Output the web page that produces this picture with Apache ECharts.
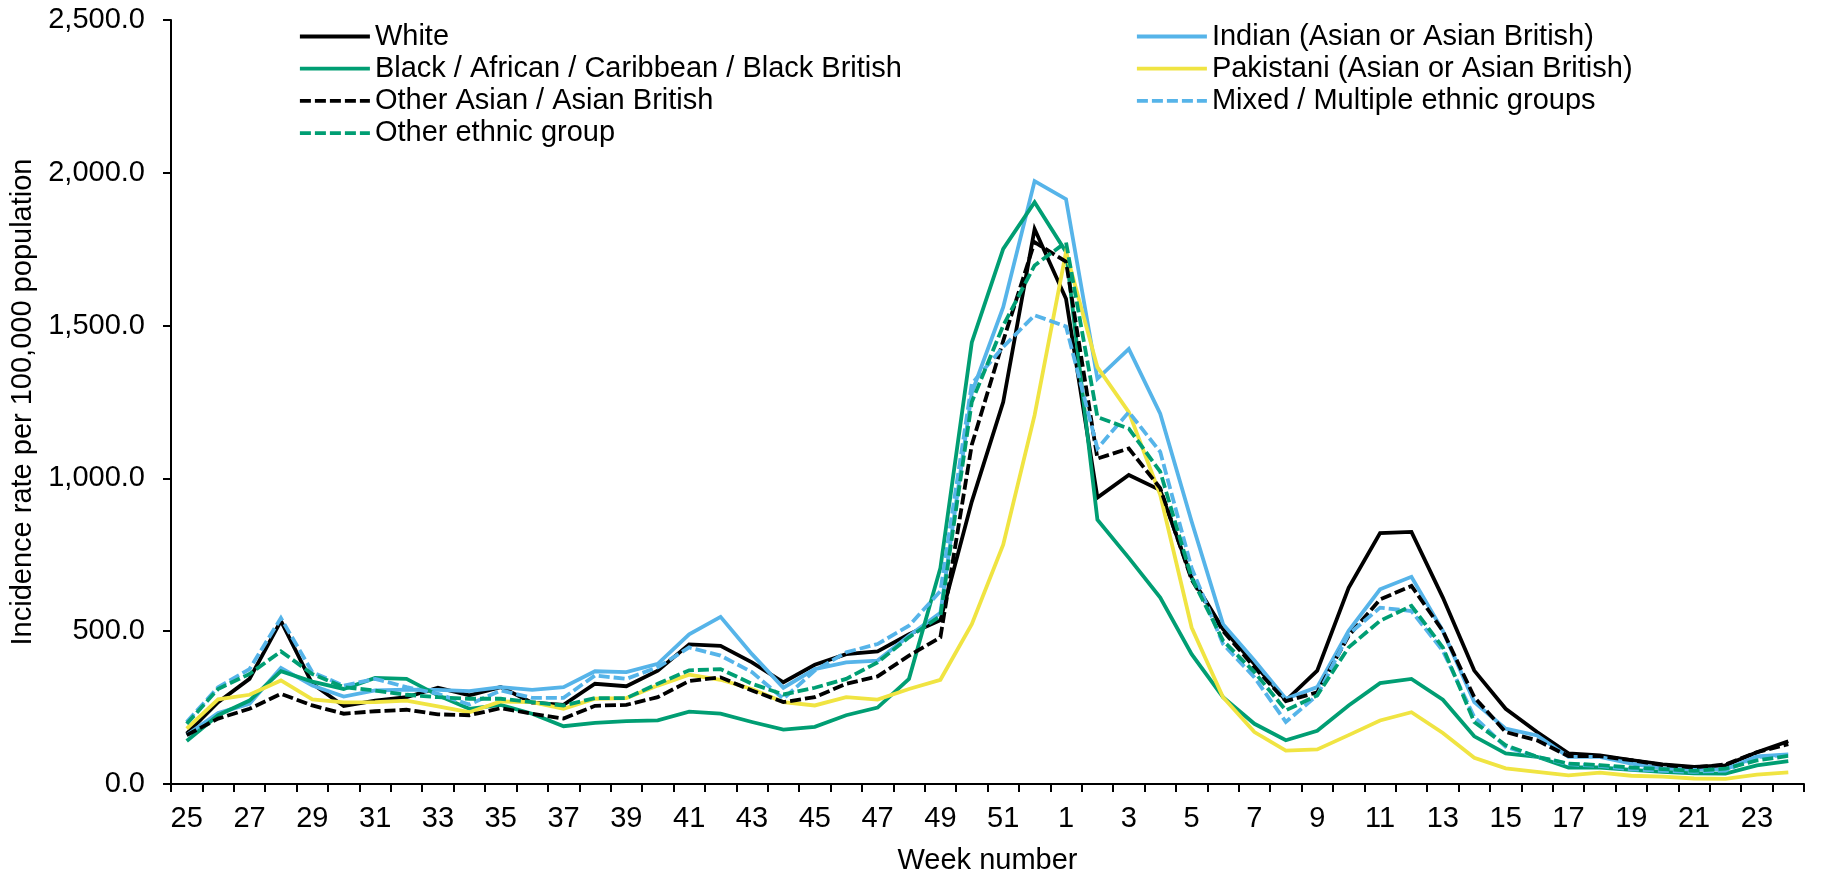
<!DOCTYPE html>
<html>
<head>
<meta charset="utf-8">
<script src="https://cdn.jsdelivr.net/npm/echarts@6/dist/echarts.min.js"></script>
<style>
html,body{margin:0;padding:0;background:#fff;}
#chart{width:1821px;height:880px;}
</style>
</head>
<body>
<div id="chart"></div>
<script>
var weeks = ['25','26','27','28','29','30','31','32','33','34','35','36','37','38','39','40','41','42','43','44','45','46','47','48','49','50','51','52',
  '1','2','3','4','5','6','7','8','9','10','11','12','13','14','15','16','17','18','19','20','21','22','23','24'];

var white = [165,268,344,534,328,255,273,284,315,290,317,266,259,328,320,371,457,452,398,333,390,425,434,490,536,924,1250,1816,
  1588,937,1011,962,675,507,393,273,371,642,821,825,610,371,246,170,100,94,78,64,56,61,104,140];
var indian = [160,232,262,380,322,286,306,309,308,304,317,308,317,369,366,393,490,547,425,315,376,398,404,485,560,1280,1560,1973,
  1914,1326,1424,1212,859,523,404,279,317,501,637,678,501,268,181,159,89,89,67,51,46,48,90,97];
var black = [141,225,273,369,335,311,347,344,290,246,259,230,189,200,206,208,237,230,203,178,187,225,250,344,707,1445,1751,1904,
  1741,865,740,610,425,284,197,143,174,257,330,344,276,156,100,89,54,54,46,40,35,34,61,75];
var pakistani = [181,277,292,339,277,267,268,273,254,235,270,268,246,279,281,322,358,341,311,268,257,284,276,311,341,523,783,1207,
  1741,1364,1217,946,512,284,170,109,113,160,208,235,167,86,51,40,28,37,27,24,18,17,31,38];
var otherAsian = [160,214,246,295,257,230,238,243,228,225,248,230,214,256,259,284,337,349,306,268,284,328,352,420,480,1110,1450,1773,
  1709,1065,1098,968,669,501,382,271,300,485,604,648,501,284,170,143,91,91,78,62,54,64,104,130];
var mixed = [203,317,376,543,366,322,344,317,295,260,306,282,282,355,344,382,447,420,366,279,371,431,458,518,631,1310,1430,1534,
  1497,1098,1217,1087,707,458,349,203,290,490,577,566,436,219,122,89,65,59,48,43,40,44,88,95];
var otherEthnic = [197,311,360,434,360,317,306,292,284,279,279,268,257,281,281,328,372,376,328,293,315,344,398,480,550,1250,1500,1697,
  1773,1201,1163,1022,675,469,366,241,290,447,534,583,447,203,127,89,67,62,54,49,43,50,77,92];

var yTicks = [0, 500, 1000, 1500, 2000, 2500];

var FONT = "'Liberation Sans', Arial, sans-serif";
var GREEN = '#009E73', BLUE = '#56B4E9', YELLOW = '#F0E442', BLACK = '#000000';
var DASH = [11, 4];

function mk(name, data, color, dashed) {
  return {
    name: name, type: 'line', data: data, symbol: 'none', showSymbol: false,
    lineStyle: {color: color, width: 3.8, type: dashed ? DASH : 'solid', cap: 'butt', join: 'miter'},
    itemStyle: {color: color},
    emphasis: {disabled: true}, animation: false
  };
}

var chart = echarts.init(document.getElementById('chart'), null, {renderer: 'canvas'});
var legendText = {fontFamily: FONT, fontSize: 29, color: '#000', lineHeight: 29};

chart.setOption({
  animation: false,
  backgroundColor: '#fff',
  textStyle: {fontFamily: FONT, fontSize: 29, color: '#000'},
  grid: {left: 171, right: 17, top: 20, bottom: 92, containLabel: false},
  legend: [
    {
      orient: 'vertical', left: 293, top: 17, itemWidth: 70, itemHeight: 29, itemGap: 3.2,
      itemStyle: {opacity: 0}, lineStyle: {width: 3.8}, textStyle: legendText, selectedMode: false,
      data: ['White', 'Black / African / Caribbean / Black British', 'Other Asian / Asian British', 'Other ethnic group']
    },
    {
      orient: 'vertical', left: 1130, top: 17, itemWidth: 70, itemHeight: 29, itemGap: 3.2,
      itemStyle: {opacity: 0}, lineStyle: {width: 3.8}, textStyle: legendText, selectedMode: false,
      data: ['Indian (Asian or Asian British)', 'Pakistani (Asian or Asian British)', 'Mixed / Multiple ethnic groups']
    }
  ],
  xAxis: {
    type: 'category', data: weeks, boundaryGap: true,
    name: 'Week number', nameLocation: 'middle', nameGap: 62,
    nameTextStyle: {fontFamily: FONT, fontSize: 29, color: '#000'},
    axisLine: {show: true, lineStyle: {color: '#000', width: 2}},
    axisTick: {show: true, interval: 0, alignWithLabel: false, length: 8, lineStyle: {color: '#000', width: 2}},
    axisLabel: {interval: 1, margin: 20, fontFamily: FONT, fontSize: 29, color: '#000'},
    splitLine: {show: false}
  },
  yAxis: {
    type: 'value', min: yTicks[0], max: yTicks[yTicks.length - 1], interval: 500,
    name: 'Incidence rate per 100,000 population', nameLocation: 'middle', nameGap: 134, nameRotate: 90,
    nameTextStyle: {fontFamily: FONT, fontSize: 29, color: '#000'},
    axisLine: {show: true, lineStyle: {color: '#000', width: 2}},
    axisTick: {show: true, inside: false, length: 8, lineStyle: {color: '#000', width: 2}},
    axisLabel: {
      margin: 26, fontFamily: FONT, fontSize: 29, color: '#000',
      formatter: function (v) {
        var s = Math.round(v).toString().replace(/\B(?=(\d{3})+(?!\d))/g, ',');
        return s + '.0';
      }
    },
    splitLine: {show: false}
  },
  series: [
    mk('White', white, BLACK, false),
    mk('Indian (Asian or Asian British)', indian, BLUE, false),
    mk('Black / African / Caribbean / Black British', black, GREEN, false),
    mk('Pakistani (Asian or Asian British)', pakistani, YELLOW, false),
    mk('Other Asian / Asian British', otherAsian, BLACK, true),
    mk('Mixed / Multiple ethnic groups', mixed, BLUE, true),
    mk('Other ethnic group', otherEthnic, GREEN, true)
  ]
});
</script>
</body>
</html>
